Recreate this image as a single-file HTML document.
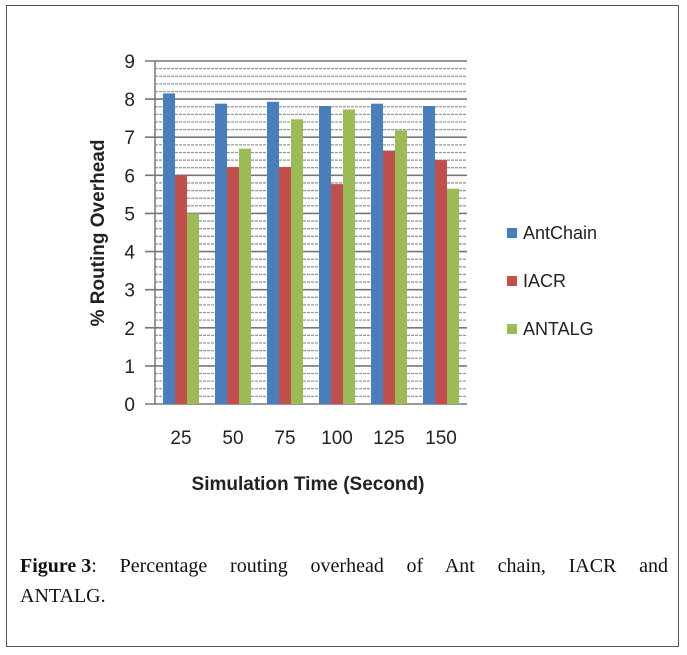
<!DOCTYPE html>
<html><head><meta charset="utf-8"><style>
body{margin:0;background:#fff;width:687px;height:655px;overflow:hidden;font-family:"Liberation Sans",sans-serif}
#frame{position:absolute;left:6px;top:5px;width:673px;height:642px;border:1px solid #555;box-sizing:border-box}
.cap{position:absolute;left:20px;width:648px;font-family:"Liberation Serif",serif;font-size:20px;line-height:30px;color:#111;white-space:nowrap}
#cap1{top:551px;text-align:justify;text-align-last:justify;white-space:normal}
#cap2{top:581px}
</style></head><body>
<div id="frame"></div>
<svg id="chart" width="687" height="655" style="position:absolute;left:0;top:0"></svg>
<div class="cap" id="cap1"><span style="display:inline-block"><b>Figure 3</b>:</span> Percentage routing overhead of Ant chain, IACR and</div>
<div class="cap" id="cap2">ANTALG.</div>
<script>
const categories=["25","50","75","100","125","150"];
const antChain=[8.15,7.88,7.93,7.82,7.88,7.82];
const iacr=[6.0,6.22,6.22,5.77,6.65,6.4];
const antalg=[5.0,6.7,7.47,7.73,7.18,5.65];
const yTicks=[0,1,2,3,4,5,6,7,8,9];
const seriesNames=["AntChain","IACR","ANTALG"];
const colors=["#4a7ebb","#c0504d","#9bbb59"];
const svg=document.getElementById('chart');
const NS="http://www.w3.org/2000/svg";
const X0=155,X1=467,Y0=404,Y1=61,YMAX=9;
const y=v=>Y0-(v/YMAX)*(Y0-Y1);
const gw=(X1-X0)/categories.length;
const xc=i=>X0+gw*(i+0.5);
function mk(t,a){const e=document.createElementNS(NS,t);for(const k in a)e.setAttribute(k,a[k]);svg.appendChild(e);return e;}
for(let v=0;v<=YMAX*5;v++){
  const val=v/5,maj=v%5===0;
  const g=mk('line',{x1:maj?145:X0,x2:X1,y1:y(val),y2:y(val),stroke:maj?'#777':'#999','stroke-width':maj?1.6:1.3,'stroke-dasharray':maj?'':'3,1'});
  
  
}
yTicks.forEach(t=>{
  const e=mk('text',{x:135,y:y(t)+7,'text-anchor':'end','font-size':19,fill:'#222'});
  e.textContent=t;
  
  
});
const ax=mk('line',{x1:X0,x2:X0,y1:Y1,y2:Y0,stroke:'#777','stroke-width':1.5});


const series=[antChain,iacr,antalg];
const bw=12;
categories.forEach((c,i)=>{
  series.forEach((s,j)=>{
    const b=mk('rect',{x:xc(i)-18+j*bw,y:y(s[i]),width:bw,height:Y0-y(s[i]),fill:colors[j]});
    
    
  });
  const t=mk('text',{x:xc(i),y:444,'text-anchor':'middle','font-size':19,fill:'#222'});
  t.textContent=c;
  
  
});
const xt=mk('text',{x:308,y:490,'text-anchor':'middle','font-size':19,'font-weight':'bold',fill:'#222'});
xt.textContent="Simulation Time (Second)";


const yt=mk('text',{x:0,y:0,'text-anchor':'middle','font-size':19,'font-weight':'bold',fill:'#222',transform:'translate(104,233) rotate(-90)'});
yt.textContent="% Routing Overhead";


seriesNames.forEach((n,j)=>{
  const ly=234+j*48;
  const r=mk('rect',{x:507,y:ly-6,width:10,height:10,fill:colors[j]});
  
  
  const t=mk('text',{x:523,y:ly+5,'font-size':18,fill:'#222'});
  t.textContent=n;
  
  
});
</script>
</body></html>
